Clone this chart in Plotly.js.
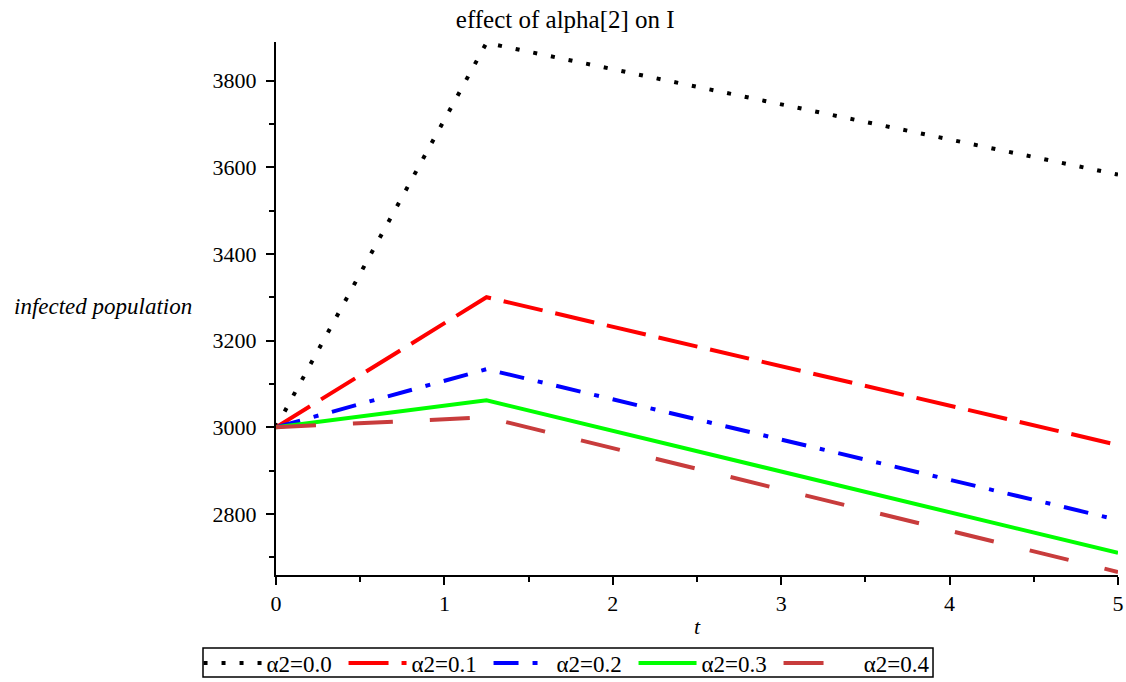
<!DOCTYPE html>
<html>
<head>
<meta charset="utf-8">
<script src="https://cdn.plot.ly/plotly-3.0.1.min.js"></script>
<style>
html,body{margin:0;padding:0;background:#fff;}
#chart{width:1126px;height:682px;}
</style>
</head>
<body>
<div id="chart"></div>
<script>
// Data
const tValues = [0, 1.25, 5];
const seriesNames = ["\u03b12=0.0", "\u03b12=0.1", "\u03b12=0.2", "\u03b12=0.3", "\u00a0\u00a0\u00a0\u03b12=0.4"];
const alpha00 = [3000, 3887, 3583];
const alpha01 = [3000, 3300, 2959];
const alpha02 = [3000, 3134, 2786];
const alpha03 = [3000, 3062, 2710];
const alpha04 = [3000, 3023, 2666];
const yTickVals = [2800, 3000, 3200, 3400, 3600, 3800];
const xTickVals = [0, 1, 2, 3, 4, 5];

const seriesValues = [alpha00, alpha01, alpha02, alpha03, alpha04];
const colors = ["#000000", "#ff0000", "#0000ff", "#00ff00", "#c83c3c"];
const dashes = ["4px,14px", "40px,13px", "25px,14px,5px,14px", "solid", "40px,37px"];

const serif = "Liberation Serif, serif";

const traces = seriesValues.map((vals, i) => ({
  x: tValues,
  y: vals,
  type: "scatter",
  mode: "lines",
  name: seriesNames[i],
  line: {color: colors[i], width: 4, dash: dashes[i]},
  hoverinfo: "x+y"
}));
traces[4].legendwidth = 100;

const layout = {
  width: 1126,
  height: 682,
  paper_bgcolor: "#ffffff",
  plot_bgcolor: "#ffffff",
  margin: {l: 276, r: 8, t: 42, b: 107, autoexpand: false},
  font: {family: serif, size: 22, color: "#000000"},
  title: {
    text: "effect of alpha[2] on I",
    font: {family: serif, size: 25, color: "#000000"},
    xref: "container", x: 0.502, xanchor: "center",
    yref: "container", y: 0.972, yanchor: "middle"
  },
  showlegend: true,
  legend: {
    orientation: "h",
    x: -0.092, xanchor: "left",
    y: -0.125, yanchor: "top",
    borderwidth: 0,
    bgcolor: "rgba(0,0,0,0)",
    font: {family: serif, size: 23, color: "#000000"},
    entrywidth: 72, entrywidthmode: "pixels",
    itemwidth: 58,
    tracegroupgap: 0
  },
  shapes: [
    {
      type: "rect", xref: "paper", yref: "paper",
      x0: -0.0867, x1: 0.7803, y0: -0.1914, y1: -0.137,
      line: {color: "#000000", width: 1.5},
      fillcolor: "rgba(0,0,0,0)",
      layer: "below"
    }
  ],
  xaxis: {
    range: [0, 5],
    tickvals: xTickVals,
    ticks: "outside", ticklen: 8, tickwidth: 2, tickcolor: "#000000",
    showline: true, linecolor: "#000000", linewidth: 2,
    showgrid: false, zeroline: false,
    tickfont: {family: serif, size: 22, color: "#000000"},
    minor: {dtick: 0.5, tick0: 0, ticks: "outside", ticklen: 5, tickwidth: 2, tickcolor: "#000000", showgrid: false}
  },
  yaxis: {
    range: [2659, 3889],
    tickvals: yTickVals,
    ticks: "outside", ticklen: 8, tickwidth: 2, tickcolor: "#000000",
    ticklabelstandoff: 5,
    showline: true, linecolor: "#000000", linewidth: 2,
    showgrid: false, zeroline: false,
    tickfont: {family: serif, size: 22, color: "#000000"},
    minor: {dtick: 100, tick0: 2700, ticks: "outside", ticklen: 5, tickwidth: 2, tickcolor: "#000000", showgrid: false}
  },
  annotations: [
    {
      text: "infected population",
      xref: "paper", yref: "paper",
      x: -0.205, y: 0.503, xanchor: "center", yanchor: "middle",
      showarrow: false,
      font: {family: serif, size: 23, color: "#000000", style: "italic"}
    },
    {
      text: "t",
      xref: "paper", yref: "paper",
      x: 0.5, y: -0.096, xanchor: "center", yanchor: "middle",
      showarrow: false,
      font: {family: serif, size: 22, color: "#000000", style: "italic"}
    }
  ]
};

Plotly.newPlot("chart", traces, layout, {displayModeBar: false, staticPlot: true});
</script>
</body>
</html>
